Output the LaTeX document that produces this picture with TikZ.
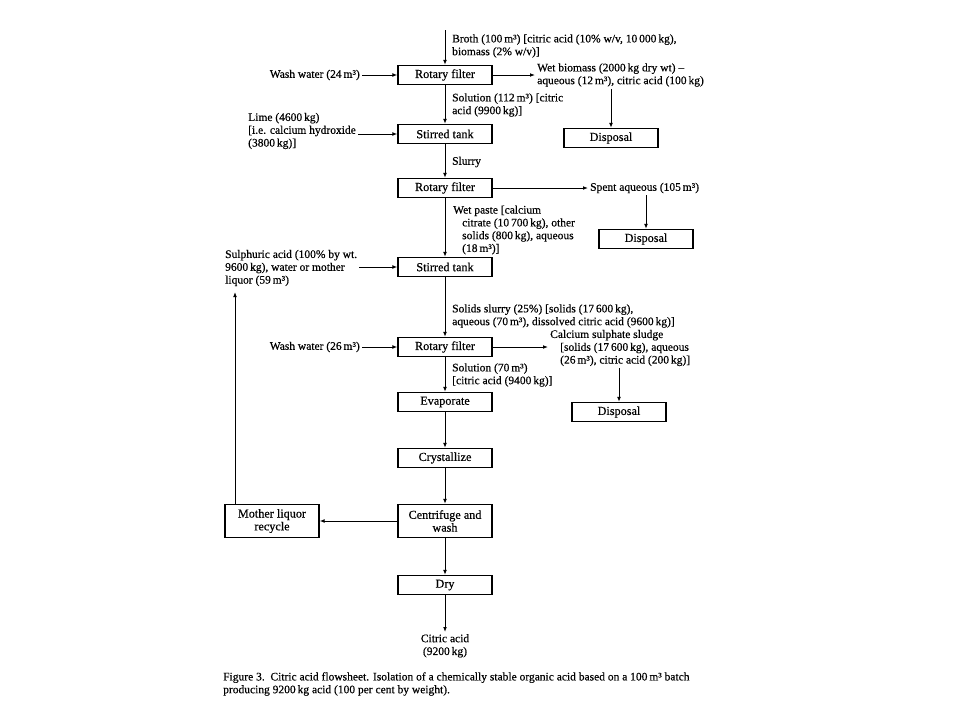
\documentclass[tikz,border=0pt]{standalone}
\usepackage{fontspec}
\setmainfont{Liberation Serif}[FakeBold=0.4]
\usetikzlibrary{arrows.meta}

\tikzset{
	unit/.style={draw, line width=1.2pt, minimum width=94pt, minimum height=19pt, inner sep=1pt, align=center, font=\fontsize{12.2}{12.8}\selectfont},
	flow/.style={-{Latex[length=5pt,width=3.8pt]}, line width=1pt},
	lbl/.style={align=left, inner sep=2pt, font=\fontsize{11.5}{12.8}\selectfont}
}

\begin{document}
\begin{tikzpicture}[x=1pt, y=-1pt]
		%%%%% START %%%%%
		\useasboundingbox (0, 0) rectangle (960, 720);
		
		% main column
		\node[unit] (filterA) at (445, 75) {Rotary filter};
		\node[unit] (tankA) at (445, 134) {Stirred tank};
		\node[unit] (filterB) at (445, 188) {Rotary filter};
		\node[unit] (tankB) at (445, 267) {Stirred tank};
		\node[unit] (filterC) at (445, 347) {Rotary filter};
		\node[unit] (evap) at (445, 402) {Evaporate};
		\node[unit] (cryst) at (445, 458) {Crystallize};
		\node[unit, minimum height=33pt] (centri) at (445, 521) {Centrifuge and\\wash};
		\node[unit] (dryer) at (445, 585) {Dry};
		\node[unit, minimum height=33pt] (mother) at (272, 521) {Mother liquor\\recycle};
		
		% disposal boxes
		\node[unit] (dispA) at (611, 138) {Disposal};
		\node[unit] (dispB) at (646, 239) {Disposal};
		\node[unit] (dispC) at (619, 412) {Disposal};
		
		% stream labels
		\node[lbl, anchor=west] (broth) at (450, 46) {Broth (100\,m³) [citric acid (10\% w/v, 10\,000\,kg),\\biomass (2\% w/v)]};
		\node[lbl, anchor=east] (washA) at (362, 75) {Wash water (24\,m³)};
		\node[lbl, anchor=west] (wetbio) at (535, 75) {Wet biomass (2000\,kg dry wt) --\\aqueous (12\,m³), citric acid (100\,kg)};
		\node[lbl, anchor=west] (solnA) at (450, 105) {Solution (112\,m³) [citric\\acid (9900\,kg)]};
		\node[lbl, anchor=west] (lime) at (246, 131) {Lime (4600\,kg)\\{[i.e.} calcium hydroxide\\(3800\,kg)]};
		\node[lbl, anchor=west] (slurry) at (450, 162) {Slurry};
		\node[lbl, anchor=west] (spent) at (588, 188) {Spent aqueous (105\,m³)};
		\node[lbl, anchor=west] (paste) at (451, 230) {Wet paste [calcium\\\hspace*{9pt}citrate (10\,700\,kg), other\\\hspace*{9pt}solids (800\,kg), aqueous\\\hspace*{9pt}(18\,m³)]};
		\node[lbl, anchor=west] (sulph) at (223, 268) {Sulphuric acid (100\% by wt.\\9600\,kg), water or mother\\liquor (59\,m³)};
		\node[lbl, anchor=west] (solids) at (450, 316) {Solids slurry (25\%) [solids (17\,600\,kg),\\aqueous (70\,m³), dissolved citric acid (9600\,kg)]};
		\node[lbl, anchor=east] (washB) at (362, 347) {Wash water (26\,m³)};
		\node[lbl, anchor=west] (sludge) at (548, 348) {Calcium sulphate sludge\\\hspace*{10pt}[solids (17\,600\,kg), aqueous\\\hspace*{10pt}(26\,m³), citric acid (200\,kg)]};
		\node[lbl, anchor=west] (solnB) at (450, 375) {Solution (70\,m³)\\{[citric} acid (9400\,kg)]};
		\node[lbl, align=center, anchor=north] (product) at (445, 632) {Citric acid\\(9200\,kg)};
		
		% caption
		\node[lbl, anchor=west] (caption) at (221, 684) {Figure 3.\ \ Citric acid flowsheet. Isolation of a chemically stable organic acid based on a 100\,m³ batch\\producing 9200\,kg acid (100 per cent by weight).};
		
		% free ends
		\coordinate (feed) at (445, 30);
		\coordinate (rtop) at (235, 292);
		
		% main flow
		\draw[flow] (feed) -- (filterA.north);
		\draw[flow] (filterA) -- (tankA);
		\draw[flow] (tankA) -- (filterB);
		\draw[flow] (filterB) -- (tankB);
		\draw[flow] (tankB) -- (filterC);
		\draw[flow] (filterC) -- (evap);
		\draw[flow] (evap) -- (cryst);
		\draw[flow] (cryst) -- (centri);
		\draw[flow] (centri) -- (dryer);
		\draw[flow] (dryer) -- (product);
		
		% side streams
		\draw[flow] (washA) -- (filterA);
		\draw[flow] (filterA) -- (wetbio.west |- filterA.east);
		\draw[flow] (dispA.north |- wetbio.south) -- (dispA.north);
		\draw[flow] (lime.east |- tankA.west) -- (tankA.west);
		\draw[flow] (filterB) -- (spent);
		\draw[flow] (dispB.north |- spent.south) -- (dispB.north);
		\draw[flow] (sulph.east |- tankB.west) -- (tankB.west);
		\draw[flow] (washB) -- (filterC);
		\draw[flow] (filterC) -- (sludge.west |- filterC.east);
		\draw[flow] (dispC.north |- sludge.south) -- (dispC.north);
		\draw[flow] (centri) -- (mother);
		\draw[flow] (rtop |- mother.north) -- (rtop);
		
		%%%%% END %%%%%
	\end{tikzpicture}
\end{document}
